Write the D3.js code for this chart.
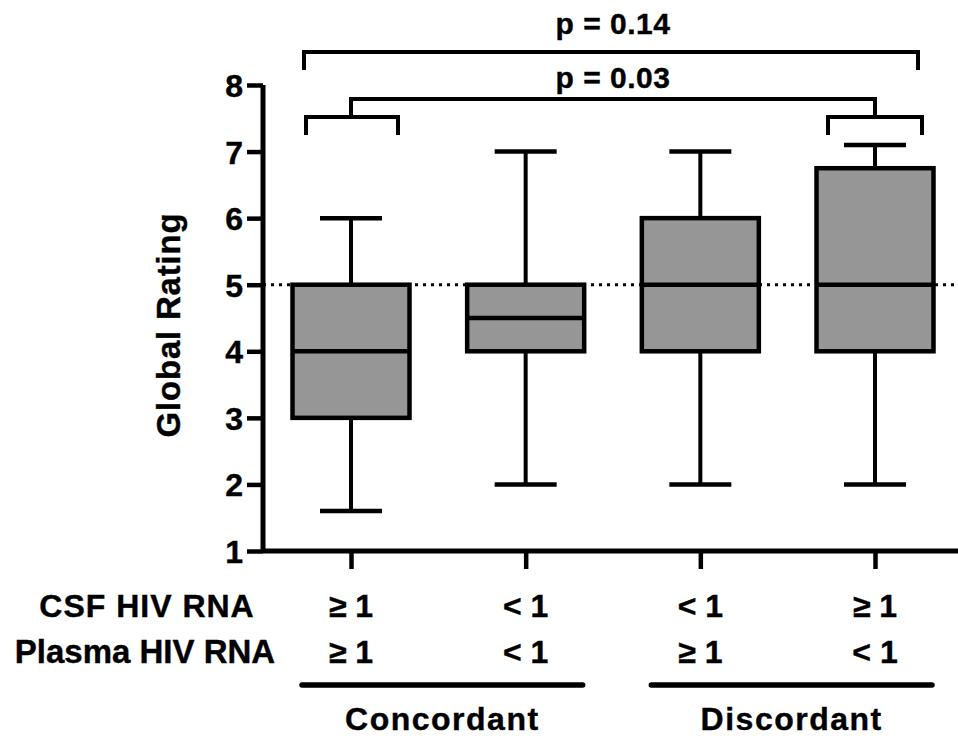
<!DOCTYPE html>
<html>
<head>
<meta charset="utf-8">
<script src="https://cdn.jsdelivr.net/npm/d3@7"></script>
<style>
  body { margin: 0; background: #fff; }
  text { font-family: "Liberation Sans", Arial, sans-serif; font-weight: bold; fill: #000; stroke: #000; stroke-width: 0.4px; }
</style>
</head>
<body>
<div id="chart"></div>
<script>
// groups, left to right
var groups = ["cc_hi", "cc_lo", "dc_plasma", "dc_csf"];
var csfLabels = ["\u2265 1", "< 1", "< 1", "\u2265 1"];
var plasmaLabels = ["\u2265 1", "< 1", "\u2265 1", "< 1"];

// box stats
var mins = [1.6, 2, 2, 2];
var q1s = [3, 4, 4, 4];
var medians = [4, 4.5, 5, 5];
var q3s = [5, 5, 6, 6.75];
var maxs = [6, 7, 7, 7.1];

var yTicks = [1, 2, 3, 4, 5, 6, 7, 8];
var refLine = 5;
var pTexts = ["p = 0.14", "p = 0.03"];
var families = ["Concordant", "Discordant"];

var width = 958, height = 739;

var svg = d3.select("#chart")
  .append("svg")
  .attr("width", width)
  .attr("height", height);

var x = d3.scalePoint().domain(groups).range([351, 875]);
var y = d3.scaleLinear().domain([1, 8]).range([551, 85]);

var axisX = 263;
var boxW = 117, capW = 62;

// reference line at 5
svg.append("line")
  .attr("x1", axisX).attr("x2", width)
  .attr("y1", y(refLine)).attr("y2", y(refLine))
  .attr("stroke", "#000")
  .attr("stroke-width", 3)
  .attr("stroke-dasharray", "3,5");

var data = groups.map(function(g, i) {
  return {g: g, min: mins[i], q1: q1s[i], med: medians[i], q3: q3s[i], max: maxs[i]};
});

var box = svg.selectAll(".box").data(data).enter()
  .append("g").attr("class", "box");

// whiskers
box.append("line")
  .attr("x1", function(d) { return x(d.g); })
  .attr("x2", function(d) { return x(d.g); })
  .attr("y1", function(d) { return y(d.max); })
  .attr("y2", function(d) { return y(d.min); })
  .attr("stroke", "#000").attr("stroke-width", 4);

box.append("line")
  .attr("x1", function(d) { return x(d.g) - capW / 2; })
  .attr("x2", function(d) { return x(d.g) + capW / 2; })
  .attr("y1", function(d) { return y(d.max); })
  .attr("y2", function(d) { return y(d.max); })
  .attr("stroke", "#000").attr("stroke-width", 4.5);

box.append("line")
  .attr("x1", function(d) { return x(d.g) - capW / 2; })
  .attr("x2", function(d) { return x(d.g) + capW / 2; })
  .attr("y1", function(d) { return y(d.min); })
  .attr("y2", function(d) { return y(d.min); })
  .attr("stroke", "#000").attr("stroke-width", 4.5);

box.append("rect")
  .attr("x", function(d) { return x(d.g) - boxW / 2; })
  .attr("y", function(d) { return y(d.q3); })
  .attr("width", boxW)
  .attr("height", function(d) { return y(d.q1) - y(d.q3); })
  .attr("fill", "#969696")
  .attr("stroke", "#000").attr("stroke-width", 4.5);

box.append("line")
  .attr("x1", function(d) { return x(d.g) - boxW / 2; })
  .attr("x2", function(d) { return x(d.g) + boxW / 2; })
  .attr("y1", function(d) { return y(d.med); })
  .attr("y2", function(d) { return y(d.med); })
  .attr("stroke", "#000").attr("stroke-width", 4.5);

// y axis
var yAxis = svg.append("g")
  .attr("transform", "translate(" + axisX + ",0)")
  .call(d3.axisLeft(y).tickValues(yTicks).tickFormat(d3.format("d")).tickSize(16).tickPadding(4));
yAxis.select(".domain").attr("stroke-width", 5).attr("d", "M0," + y(8) + "V" + y(1));
yAxis.selectAll(".tick line").attr("stroke-width", 4.5);
yAxis.selectAll(".tick text")
  .attr("font-size", 32)
  .attr("font-family", "Liberation Sans, Arial, sans-serif")
  .attr("font-weight", "bold")
  .attr("dy", "0.36em");

// x axis
var xAxis = svg.append("g")
  .attr("transform", "translate(0," + y(1) + ")")
  .call(d3.axisBottom(x).tickSize(18).tickFormat(""));
xAxis.select(".domain").attr("stroke-width", 5).attr("d", "M" + axisX + ",0H" + width);
xAxis.selectAll(".tick line").attr("stroke-width", 4.5);

// y title
svg.append("text")
  .attr("transform", "translate(180," + 325 + ") rotate(-90)")
  .attr("text-anchor", "middle")
  .attr("font-size", 33)
  .attr("letter-spacing", 0.8)
  .text("Global Rating");

// row labels under the axis
var rowY = [617, 663];
svg.append("text").attr("x", 147).attr("y", rowY[0])
  .attr("text-anchor", "middle").attr("font-size", 32).attr("letter-spacing", 1)
  .text("CSF HIV RNA");
svg.append("text").attr("x", 145).attr("y", rowY[1])
  .attr("text-anchor", "middle").attr("font-size", 33)
  .text("Plasma HIV RNA");

svg.selectAll(".csf").data(groups).enter()
  .append("text").attr("class", "csf")
  .attr("x", function(d) { return x(d); })
  .attr("y", rowY[0])
  .attr("text-anchor", "middle").attr("font-size", 32)
  .text(function(d, i) { return csfLabels[i]; });

svg.selectAll(".plasma").data(groups).enter()
  .append("text").attr("class", "plasma")
  .attr("x", function(d) { return x(d); })
  .attr("y", rowY[1])
  .attr("text-anchor", "middle").attr("font-size", 32)
  .text(function(d, i) { return plasmaLabels[i]; });

// family underlines
var fam = [[groups[0], groups[1]], [groups[2], groups[3]]];
svg.selectAll(".famline").data(fam).enter()
  .append("line").attr("class", "famline")
  .attr("x1", function(d) { return x(d[0]) - 49; })
  .attr("x2", function(d) { return x(d[1]) + 57; })
  .attr("y1", 685).attr("y2", 685)
  .attr("stroke", "#000").attr("stroke-width", 5.5)
  .attr("stroke-linecap", "round");

svg.selectAll(".famtext").data(fam).enter()
  .append("text").attr("class", "famtext")
  .attr("x", function(d) { return (x(d[0]) + x(d[1])) / 2 + 4; })
  .attr("y", 730)
  .attr("text-anchor", "middle").attr("font-size", 32).attr("letter-spacing", 1.5)
  .text(function(d, i) { return families[i]; });

// significance brackets
var half = 47;
var first = x(groups[0]), last = x(groups[3]);
var mid = (first + last) / 2;

function path(pts) { return d3.line()(pts); }

var br = svg.append("g")
  .attr("fill", "none").attr("stroke", "#000").attr("stroke-width", 4);

br.append("path").attr("d", path([[first - half, 70], [first - half, 52], [last + half - 4, 52], [last + half - 4, 70]]));
br.append("path").attr("d", path([[first - half + 2, 135], [first - half + 2, 117], [first + half, 117], [first + half, 135]]));
br.append("path").attr("d", path([[last - half, 135], [last - half, 117], [last + half, 117], [last + half, 135]]));
br.append("path").attr("d", path([[first, 117], [first, 99], [last, 99], [last, 117]]));

svg.append("text").attr("x", mid).attr("y", 34)
  .attr("text-anchor", "middle").attr("font-size", 30).attr("letter-spacing", 0.5)
  .text(pTexts[0]);
svg.append("text").attr("x", mid).attr("y", 88)
  .attr("text-anchor", "middle").attr("font-size", 30).attr("letter-spacing", 0.5)
  .text(pTexts[1]);
</script>
</body>
</html>
